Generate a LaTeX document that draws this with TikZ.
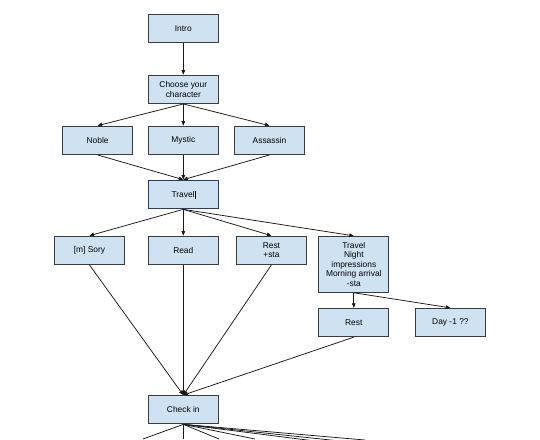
\documentclass[tikz,border=0pt]{standalone}
\usepackage{fontspec}
\setmainfont{Liberation Sans}
\usetikzlibrary{arrows.meta}
\definecolor{boxfill}{RGB}{207,226,242}
\definecolor{boxline}{RGB}{60,60,60}
\definecolor{selline}{RGB}{40,60,110}
\begin{document}
\begin{tikzpicture}[x=1pt,y=-1pt,
  box/.style={draw=boxline,line width=0.9pt,fill=boxfill,minimum width=70pt,minimum height=28.4pt,
    inner sep=1pt,align=center,font=\fontsize{8.4}{9.6}\selectfont},
  tall/.style={box,minimum height=56pt},
  sel/.style={box,draw=selline,line width=1.3pt},
  arr/.style={draw=black!90,line width=0.75pt,-{Triangle[length=4.5pt,width=3.6pt]}},
  ln/.style={draw=black!90,line width=0.75pt}]
\fill[white] (0,0) rectangle (540,439);
\useasboundingbox (0,0) rectangle (540,439);
\begin{scope}
\clip (0,0) rectangle (540,439);
\node[box] (intro) at (183.3,28.5) {Intro};
\node[box] (choose) at (183.3,89.3) {Choose your\\character};
\node[box] (noble) at (97.6,140.3) {Noble};
\node[box] (mystic) at (183.3,140.3) {Mystic};
\node[box] (assassin) at (269.5,140.3) {Assassin};
\node[sel] (travel) at (183.3,194.5) {Travel\rule[-1.2pt]{0.5pt}{8pt}};
\node[box] (sory) at (89.5,250.3) {[m] Sory};
\node[box] (read) at (183.3,250.3) {Read};
\node[box] (reststa) at (271.4,250.3) {Rest\\+sta};
\node[tall] (travel2) at (353.8,264.3) {Travel\\Night\\impressions\\Morning arrival\\-sta};
\node[box] (rest) at (353.8,322.5) {Rest};
\node[box] (day) at (450.4,322.5) {Day -1 ??};
\node[box] (checkin) at (183.3,409.7) {Check in};

\draw[arr] (intro.south) -- (choose.north);
\draw[arr] (choose.south) -- (noble.north);
\draw[arr] (choose.south) -- (mystic.north);
\draw[arr] (choose.south) -- (assassin.north);
\draw[arr] (noble.south) -- (travel.north);
\draw[arr] (mystic.south) -- (travel.north);
\draw[arr] (assassin.south) -- (travel.north);
\draw[arr] (travel.south) -- (sory.north);
\draw[arr] (travel.south) -- (read.north);
\draw[arr] (travel.south) -- (reststa.north);
\draw[arr] (travel.south) -- (travel2.north);
\draw[arr] (travel2.south) -- (rest.north);
\draw[arr] (travel2.south) -- (day.north);
\draw[arr] (sory.south) -- (checkin.north);
\draw[arr] (read.south) -- (checkin.north);
\draw[arr] (reststa.south) -- (checkin.north);
\draw[arr] (rest.south) -- (checkin.north);

\coordinate (f1) at (143,439);
\coordinate (f2) at (183.3,439);
\coordinate (f3) at (219,439);
\coordinate (f4) at (255,439);
\coordinate (f5) at (315,441);
\coordinate (f6) at (340,441);
\coordinate (f7) at (365,440);
\foreach \f in {f1,f2,f3,f4,f5,f6,f7}
  \draw[ln] (checkin.south) -- (\f);
\end{scope}
\end{tikzpicture}
\end{document}
